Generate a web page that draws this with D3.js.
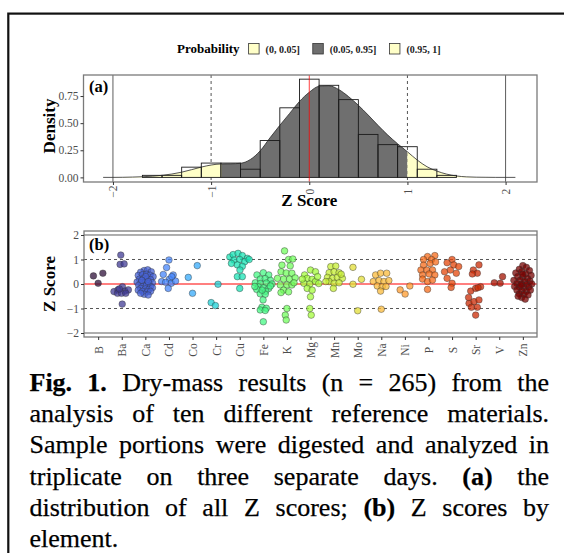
<!DOCTYPE html>
<html>
<head>
<meta charset="utf-8">
<script src="https://cdn.jsdelivr.net/npm/d3@7"></script>
<style>
  body { margin: 0; background: #fff; }
  svg { display: block; font-family: 'Liberation Serif', 'Times New Roman', serif; }
</style>
</head>
<body>
<div id="container"></div>
<script>
const WIDTH = 564;
const HEIGHT = 553;

// panel (a): histogram of all Z scores
const N = 265;
const BIN_WIDTH = 0.2;
const HIST_BINS = [-1.6, -1.4, -1.2, -1.0, -0.8, -0.6, -0.4, -0.2, 0, 0.2, 0.4, 0.6, 0.8, 1.0, 1.2, 1.4];
const HIST_COUNTS = [1, 1, 5, 7, 7, 4, 18, 34, 48, 45, 38, 21, 16, 15, 4, 1];

// kernel density curve
const DENSITY_Z = [-2.1, -2.0, -1.9, -1.8, -1.7, -1.6, -1.5, -1.4, -1.3, -1.2, -1.1, -1.0, -0.9, -0.8, -0.7,
  -0.6, -0.5, -0.4, -0.3, -0.2, -0.1, 0, 0.1, 0.2, 0.3, 0.4, 0.5, 0.6, 0.7, 0.8, 0.9, 1.0, 1.1, 1.2,
  1.3, 1.4, 1.5, 1.6, 1.7, 1.8, 1.9, 2.0, 2.1];
const DENSITY_Y = [0, 0, 0.001, 0.003, 0.006, 0.011, 0.019, 0.031, 0.048, 0.071, 0.095, 0.114, 0.124, 0.125, 0.13,
  0.165, 0.245, 0.365, 0.48, 0.59, 0.70, 0.785, 0.84, 0.845, 0.81, 0.745, 0.665, 0.575, 0.48, 0.39, 0.31, 0.236, 0.16, 0.098,
  0.058, 0.03, 0.013, 0.005, 0.002, 0.001, 0, 0, 0];
const Q_LOW = -0.89;
const Q_HIGH = 1.0;
const PROB_LABELS = ['(0, 0.05]', '(0.05, 0.95]', '(0.95, 1]'];
const A_TICKS_X = [-2, -1, 0, 1, 2];
const A_TICKS_Y = [0, 0.25, 0.5, 0.75];

// panel (b): Z scores by element, [jitter (fraction of step), z]
const ELEMENTS = ['B', 'Ba', 'Ca', 'Cd', 'Co', 'Cr', 'Cu', 'Fe', 'K', 'Mg', 'Mn', 'Mo', 'Na', 'Ni', 'P', 'S', 'Sr', 'V', 'Zn'];
const B_TICKS_Y = [-2, -1, 0, 1, 2];

const ptsB = [[-0.2, 0.33], [0.2, 0.44], [0, 0.03]];
const ptsBa = [[-0.04, 1.18], [-0.07, 0.8], [0.1, 0.82], [0.03, -0.11], [-0.33, -0.31], [-0.16, -0.24], [0.13, -0.29],
  [0.28, -0.24], [-0.18, -0.38], [-0.01, -0.38], [0.17, -0.38], [-0.1, -0.2], [0.02, -0.82]];
const ptsCa = [[-0.05, 0.55], [0.1, 0.58], [0.25, 0.5], [-0.2, 0.48], [-0.3, 0.35], [-0.12, 0.38], [0.05, 0.4], [0.2, 0.36],
  [0.33, 0.3], [-0.25, 0.2], [-0.08, 0.22], [0.08, 0.2], [0.22, 0.18], [-0.35, 0.08], [-0.18, 0.05], [0, 0.08],
  [0.15, 0.03], [0.3, 0.05], [-0.28, -0.05], [-0.1, -0.08], [0.05, -0.05], [0.22, -0.1], [-0.2, -0.18], [0, -0.2],
  [0.15, -0.22], [0.3, -0.15], [-0.3, -0.25], [-0.12, -0.3], [0.08, -0.32], [0.22, -0.3], [-0.05, -0.42],
  [0.12, -0.45], [-0.2, -0.38], [0.02, 0.3], [-0.15, 0.15], [0.12, 0.1]];
const ptsCd = [[0, 0.98], [-0.1, 0.67], [-0.24, 0.39], [0.18, 0.37], [0.02, 0.19], [-0.31, 0.1], [-0.14, 0.07],
  [0.1, 0.03], [0.28, 0.12], [-0.03, -0.18], [0.12, 0.3]];
const ptsCo = [[-0.18, 0.27], [0.2, 0.75], [0, -0.38]];
const ptsCr = [[-0.21, -0.76], [-0.03, -0.88], [0.08, -0.01]];
const ptsCu = [[-0.42, 1.1], [-0.28, 1.2], [-0.07, 1.25], [0.11, 1.16], [0.32, 1.05], [-0.24, 0.98], [0, 1.0], [0.21, 0.91],
  [-0.35, 0.84], [-0.1, 0.78], [0.11, 0.72], [0.4, 1.0], [0.01, 0.57], [-0.1, 0.3], [0.11, 0.3], [0, -0.18]];
const ptsFe = [[-0.27, 0.37], [0, 0.46], [0.23, 0.37], [-0.13, 0.2], [0.08, 0.22], [0.3, 0.15], [-0.34, 0.05], [-0.13, 0.02],
  [0.13, 0.04], [0.37, 0], [-0.2, -0.12], [0.01, -0.15], [0.23, -0.18], [-0.28, -0.22], [0.1, -0.3], [-0.13, -0.4],
  [0.08, -0.42], [-0.05, -0.25], [-0.01, -0.65], [-0.06, -0.95], [0.13, -0.99], [-0.13, -1.06], [0.08, -1.08],
  [0, -1.54], [0.3, -0.08], [-0.36, -0.1]];
const ptsK = [[-0.1, 1.35], [0.07, 1.0], [0.25, 1.02], [-0.21, 0.77], [0.14, 0.74], [-0.25, 0.5], [-0.03, 0.45], [0.21, 0.44],
  [-0.4, 0.23], [-0.14, 0.2], [0.11, 0.2], [0.35, 0.25], [-0.28, -0.04], [0, -0.04], [0.21, -0.04], [-0.14, -0.25],
  [0.07, -0.32], [-0.25, -0.35], [0, -1.0], [-0.07, -1.27], [-0.03, -1.47], [0.3, 0.05]];
const ptsMg = [[-0.25, 0.37], [0, 0.57], [0.21, 0.5], [-0.14, 0.23], [0.07, 0.19], [-0.28, 0.03], [-0.03, 0], [0.21, 0.1],
  [-0.14, -0.18], [0.07, -0.25], [0, -0.52], [-0.03, -1.0], [0.03, -1.27], [0.3, 0.3], [-0.35, 0.2], [0.35, 0.02]];
const ptsMn = [[-0.14, 0.71], [0.07, 0.73], [-0.21, 0.46], [0, 0.5], [0.21, 0.46], [-0.28, 0.27], [-0.07, 0.23], [0.14, 0.27],
  [0.35, 0.23], [-0.21, 0.1], [0, 0.03], [0.21, 0.05], [-0.03, -0.18], [0.3, 0.4], [-0.35, 0.1]];
const ptsMo = [[-0.2, 0.68], [0.16, 0.19], [-0.2, -0.01], [0, -1.09]];
const ptsNa = [[-0.24, 0.37], [-0.03, 0.44], [0.23, 0.44], [-0.34, 0.1], [-0.1, 0.14], [0.11, 0.1], [0.32, 0.14],
  [-0.17, -0.08], [0.04, -0.11], [-0.03, -0.29], [0, -1.03], [0.2, -0.1]];
const ptsNi = [[-0.2, -0.24], [0.01, -0.41], [0.21, -0.08]];
const ptsP = [[-0.04, 1.12], [0.27, 1.16], [-0.21, 1.0], [0.13, 1.0], [-0.21, 0.77], [0.07, 0.84], [0.3, 0.9], [-0.32, 0.57],
  [-0.07, 0.57], [0.17, 0.57], [-0.25, 0.37], [0.03, 0.41], [0.27, 0.37], [-0.25, 0.2], [-0.04, 0.1], [0.17, 0.16],
  [-0.04, -0.22]];
const ptsS = [[0, 1.0], [-0.21, 0.87], [0.07, 0.78], [0.28, 0.71], [-0.32, 0.5], [-0.07, 0.57], [0.18, 0.44], [-0.21, 0.23],
  [0, 0.03], [-0.04, -0.14]];
const ptsSr = [[0.14, 0.78], [-0.1, 0.57], [0.07, 0.44], [-0.14, 0.41], [-0.21, -0.29], [0, -0.18], [0.21, -0.11],
  [0.1, -0.15], [-0.28, -0.79], [-0.07, -0.72], [0.14, -0.65], [-0.18, -0.95], [0.07, -0.95], [0, -1.27], [-0.3, -0.55]];
const ptsV = [[-0.21, 0.05], [0.04, 0.03], [0.14, 0.3]];
const ptsZn = [[0, 0.75], [0.15, 0.68], [-0.15, 0.6], [0.28, 0.55], [-0.3, 0.45], [-0.05, 0.5], [0.12, 0.42], [0.35, 0.35],
  [-0.22, 0.3], [0, 0.28], [0.2, 0.22], [-0.38, 0.15], [-0.12, 0.15], [0.08, 0.1], [0.3, 0.12], [-0.25, 0.02],
  [-0.05, 0], [0.15, -0.02], [0.38, 0], [-0.35, -0.1], [-0.15, -0.12], [0.05, -0.15], [0.25, -0.12], [-0.25, -0.25],
  [-0.05, -0.28], [0.15, -0.3], [0.32, -0.25], [-0.15, -0.4], [0.05, -0.42], [0.22, -0.45], [-0.05, -0.55],
  [0.1, -0.62], [-0.2, -0.5], [0, 0.4], [-0.08, -0.05]];

const ELEMENT_POINTS = [ptsB, ptsBa, ptsCa, ptsCd, ptsCo, ptsCr, ptsCu, ptsFe, ptsK, ptsMg, ptsMn, ptsMo,
  ptsNa, ptsNi, ptsP, ptsS, ptsSr, ptsV, ptsZn];

// turbo palette, 19 steps
const PALETTE = ['#30123B', '#413C96', '#4662D7', '#4686FB', '#36AAF9', '#1BCFD4', '#1AE4B6', '#46F884',
  '#72FE5E', '#A4FC3C', '#C7EF34', '#E1DD37', '#FABA39', '#FE9B2D', '#F66B19', '#E4460A', '#CB2A04',
  '#A31301', '#7A0403'];

const FILL_MID = '#6f6f6f';
const FILL_TAIL = '#ffffc8';
const TICK_COLOR = '#4d4d4d';

const svg = d3
  .select('#container')
  .append('svg')
  .attr('width', WIDTH)
  .attr('height', HEIGHT);

// figure frame
svg
  .append('rect')
  .attr('x', 8.3)
  .attr('y', 13.6)
  .attr('width', 700)
  .attr('height', 700)
  .attr('fill', 'none')
  .attr('stroke', '#111')
  .attr('stroke-width', 2.2);

// ---------- legend ----------
const legend = svg.append('g').attr('transform', 'translate(177, 53)');
const legTitle = legend
  .append('text')
  .attr('font-weight', 'bold')
  .attr('font-size', 13)
  .text('Probability');
let lx = legTitle.node().getComputedTextLength() + 9;
PROB_LABELS.forEach((label, i) => {
  legend
    .append('rect')
    .attr('x', lx)
    .attr('y', -9.5)
    .attr('width', 10.5)
    .attr('height', 10.5)
    .attr('fill', i === 1 ? FILL_MID : FILL_TAIL)
    .attr('stroke', '#333')
    .attr('stroke-width', 0.8);
  const t = legend
    .append('text')
    .attr('x', lx + 17)
    .attr('y', -0.5)
    .attr('font-weight', 'bold')
    .attr('font-size', 10)
    .attr('fill', '#222')
    .text(label);
  lx += 17 + t.node().getComputedTextLength() + 13;
});

// ---------- panel (a) ----------
const A = { left: 83.5, right: 537, top: 75, bottom: 182 };
const xA = d3.scaleLinear().domain([-2.3, 2.32]).range([A.left, A.right]);
const yA = d3.scaleLinear().domain([-0.0425, 0.944]).range([A.bottom, A.top]);

const gA = svg.append('g');

A_TICKS_X.forEach((v) => {
  if (v === 0) return;
  gA.append('line')
    .attr('x1', xA(v)).attr('x2', xA(v))
    .attr('y1', A.top).attr('y2', A.bottom)
    .attr('stroke', Math.abs(v) === 2 ? '#333' : '#555')
    .attr('stroke-width', Math.abs(v) === 2 ? 0.8 : 1)
    .attr('stroke-dasharray', Math.abs(v) === 1 ? '3,3' : null);
});

const densityData = DENSITY_Z.map((z, i) => ({ z, y: DENSITY_Y[i] }));
const area = d3
  .area()
  .x((d) => xA(d.z))
  .y0(yA(0))
  .y1((d) => yA(d.y))
  .curve(d3.curveMonotoneX);

const defs = svg.append('defs');
const regions = [
  { id: 'clipLow', x0: A.left, x1: xA(Q_LOW), fill: FILL_TAIL },
  { id: 'clipMid', x0: xA(Q_LOW), x1: xA(Q_HIGH), fill: FILL_MID },
  { id: 'clipHigh', x0: xA(Q_HIGH), x1: A.right, fill: FILL_TAIL },
];
regions.forEach((r) => {
  defs.append('clipPath').attr('id', r.id)
    .append('rect')
    .attr('x', r.x0).attr('y', A.top)
    .attr('width', r.x1 - r.x0).attr('height', A.bottom - A.top);
  gA.append('path')
    .datum(densityData)
    .attr('clip-path', `url(#${r.id})`)
    .attr('fill', r.fill)
    .attr('d', area);
});

// histogram bars
gA.selectAll('rect.bar')
  .data(HIST_BINS.map((c, i) => ({ c, d: HIST_COUNTS[i] / (N * BIN_WIDTH) })))
  .enter()
  .append('rect')
  .attr('class', 'bar')
  .attr('x', (d) => xA(d.c - BIN_WIDTH / 2))
  .attr('width', (d) => xA(d.c + BIN_WIDTH / 2) - xA(d.c - BIN_WIDTH / 2))
  .attr('y', (d) => yA(d.d))
  .attr('height', (d) => yA(0) - yA(d.d))
  .attr('fill', 'none')
  .attr('stroke', '#1a1a1a')
  .attr('stroke-width', 0.9);

gA.append('path')
  .datum(densityData)
  .attr('fill', 'none')
  .attr('stroke', '#2a2a2a')
  .attr('stroke-width', 0.8)
  .attr('d', d3.line().x((d) => xA(d.z)).y((d) => yA(d.y)).curve(d3.curveMonotoneX));

gA.append('line')
  .attr('x1', xA(0)).attr('x2', xA(0))
  .attr('y1', A.top).attr('y2', A.bottom)
  .attr('stroke', '#ff0000')
  .attr('stroke-opacity', 0.75)
  .attr('stroke-width', 1);

gA.append('rect')
  .attr('x', A.left).attr('y', A.top)
  .attr('width', A.right - A.left).attr('height', A.bottom - A.top)
  .attr('fill', 'none')
  .attr('stroke', '#7a7a7a')
  .attr('stroke-width', 1.3);

const axAx = gA.append('g')
  .attr('transform', `translate(0, ${A.bottom})`)
  .call(d3.axisBottom(xA).tickValues(A_TICKS_X).tickSize(3).tickFormat(d3.format('d')));
const axAy = gA.append('g')
  .attr('transform', `translate(${A.left}, 0)`)
  .call(d3.axisLeft(yA).tickValues(A_TICKS_Y).tickSize(3).tickPadding(2).tickFormat(d3.format('.2f')));

axAx.selectAll('text')
  .attr('x', 0).attr('y', 0).attr('dy', '0.35em')
  .attr('text-anchor', 'middle')
  .attr('transform', 'translate(0, 9.5) rotate(-90)');

gA.append('text')
  .attr('x', 89).attr('y', 91.5)
  .attr('font-weight', 'bold').attr('font-size', 16.5)
  .text('(a)');

gA.append('text')
  .attr('transform', 'translate(55, 126) rotate(-90)')
  .attr('text-anchor', 'middle')
  .attr('font-weight', 'bold').attr('font-size', 17)
  .text('Density');

gA.append('text')
  .attr('x', xA(0)).attr('y', 206)
  .attr('text-anchor', 'middle')
  .attr('font-weight', 'bold').attr('font-size', 17)
  .text('Z Score');

// ---------- panel (b) ----------
const B = { left: 84, right: 537, top: 231, bottom: 337 };
const xB = d3.scalePoint().domain(ELEMENTS).range([B.left, B.right]).padding(0.6);
const yB = d3.scaleLinear().domain([-2.163, 2.163]).range([B.bottom, B.top]);
const gB = svg.append('g');

B_TICKS_Y.forEach((v) => {
  if (v === 0) return;
  gB.append('line')
    .attr('x1', B.left).attr('x2', B.right)
    .attr('y1', yB(v)).attr('y2', yB(v))
    .attr('stroke', Math.abs(v) === 2 ? '#333' : '#555')
    .attr('stroke-width', Math.abs(v) === 2 ? 0.8 : 1)
    .attr('stroke-dasharray', Math.abs(v) === 1 ? '3,3' : null);
});

gB.append('line')
  .attr('x1', B.left).attr('x2', B.right)
  .attr('y1', yB(0)).attr('y2', yB(0))
  .attr('stroke', '#ff0000')
  .attr('stroke-width', 1.1);

const step = xB.step();
ELEMENTS.forEach((el, i) => {
  gB.selectAll(null)
    .data(ELEMENT_POINTS[i])
    .enter()
    .append('circle')
    .attr('cx', (d) => xB(el) + d[0] * step)
    .attr('cy', (d) => yB(d[1]))
    .attr('r', 3.3)
    .attr('fill', PALETTE[i])
    .attr('fill-opacity', 0.75)
    .attr('stroke', '#333')
    .attr('stroke-opacity', 0.7)
    .attr('stroke-width', 0.6);
});

gB.append('rect')
  .attr('x', B.left).attr('y', B.top)
  .attr('width', B.right - B.left).attr('height', B.bottom - B.top)
  .attr('fill', 'none')
  .attr('stroke', '#7a7a7a')
  .attr('stroke-width', 1.3);

const axBx = gB.append('g')
  .attr('transform', `translate(0, ${B.bottom})`)
  .call(d3.axisBottom(xB).tickSize(3));
const axBy = gB.append('g')
  .attr('transform', `translate(${B.left}, 0)`)
  .call(d3.axisLeft(yB).tickValues(B_TICKS_Y).tickSize(3).tickPadding(2).tickFormat(d3.format('d')));

axBx.selectAll('text')
  .attr('x', 0).attr('y', 0).attr('dy', '0.35em')
  .attr('text-anchor', 'middle')
  .attr('transform', 'translate(0, 13) rotate(-90)');

gB.append('text')
  .attr('x', 89).attr('y', 249.5)
  .attr('font-weight', 'bold').attr('font-size', 16.5)
  .text('(b)');

gB.append('text')
  .attr('transform', 'translate(55, 284) rotate(-90)')
  .attr('text-anchor', 'middle')
  .attr('font-weight', 'bold').attr('font-size', 17)
  .text('Z Score');

[axAx, axAy, axBx, axBy].forEach((ax) => {
  ax.select('.domain').remove();
  ax.selectAll('line').attr('stroke', '#333');
  ax.selectAll('text')
    .attr('font-family', 'Liberation Serif, serif')
    .attr('font-size', 11.5)
    .attr('fill', TICK_COLOR);
});

// ---------- caption ----------
const CAPTION = [
  [['Fig.', 1], ['1.', 1], ['Dry-mass', 0], ['results', 0], ['(n', 0], ['=', 0], ['265)', 0], ['from', 0], ['the', 0]],
  [['analysis', 0], ['of', 0], ['ten', 0], ['different', 0], ['reference', 0], ['materials.', 0]],
  [['Sample', 0], ['portions', 0], ['were', 0], ['digested', 0], ['and', 0], ['analyzed', 0], ['in', 0]],
  [['triplicate', 0], ['on', 0], ['three', 0], ['separate', 0], ['days.', 0], ['(a)', 1], ['the', 0]],
  [['distribution', 0], ['of', 0], ['all', 0], ['Z', 0], ['scores;', 0], ['(b)', 1], ['Z', 0], ['scores', 0], ['by', 0]],
  [['element.', 0]],
];
const CAP_LEFT = 29.5;
const CAP_RIGHT = 549;
const capG = svg.append('g').attr('font-size', 26).attr('fill', '#000')
  .attr('stroke', '#000').attr('stroke-width', 0.25);
CAPTION.forEach((words, li) => {
  const y = 391 + li * 31.2;
  const nodes = words.map(([w, b]) =>
    capG.append('text').attr('y', y).attr('font-weight', b ? 'bold' : 'normal').text(w)
  );
  const widths = nodes.map((n) => n.node().getComputedTextLength());
  const total = d3.sum(widths);
  const last = li === CAPTION.length - 1;
  const gap = last || words.length < 2 ? 6 : (CAP_RIGHT - CAP_LEFT - total) / (words.length - 1);
  let x = CAP_LEFT;
  nodes.forEach((n, i) => {
    n.attr('x', x);
    x += widths[i] + gap;
  });
});
</script>
</body>
</html>
